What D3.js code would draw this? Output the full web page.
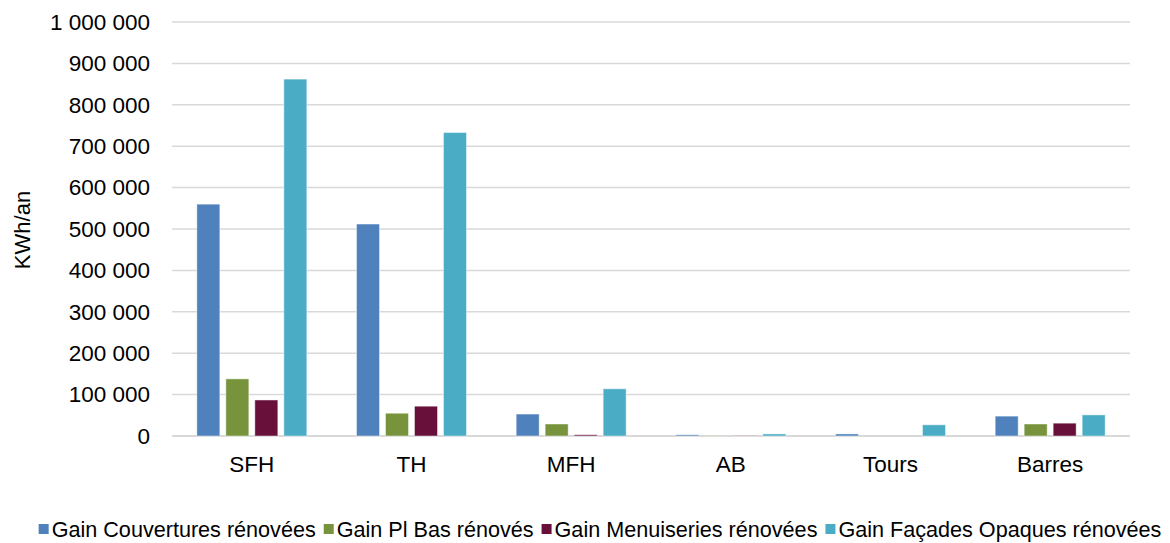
<!DOCTYPE html>
<html>
<head>
<meta charset="utf-8">
<script src="https://cdn.jsdelivr.net/npm/d3@7"></script>
<style>
  html, body { margin: 0; padding: 0; background: #fff; }
  svg { display: block; font-family: "Liberation Sans", Arial, sans-serif; }
</style>
</head>
<body>
<svg id="chart" width="1170" height="543"></svg>
<script>
// Building typologies
const categories = ["SFH", "TH", "MFH", "AB", "Tours", "Barres"];

// Series names (legend order)
const seriesNames = [
  "Gain Couvertures rénovées",
  "Gain Pl Bas rénovés",
  "Gain Menuiseries rénovées",
  "Gain Façades Opaques rénovées"
];

// Annual gains, kWh/an, per typology
const gainCouvertures = [560000, 512000, 53000, 3000, 5000, 48000];
const gainPlBas       = [138000,  55000, 29000,  500,    0, 29000];
const gainMenuiseries = [ 87000,  72000,  3000,  500,    0, 31000];
const gainFacades     = [862000, 733000, 114000, 5000, 27000, 51000];

const yTicks = [0, 100000, 200000, 300000, 400000, 500000, 600000, 700000, 800000, 900000, 1000000];

const colors = ["#4F81BD", "#77933C", "#69103A", "#4BACC6"];

const seriesValues = [gainCouvertures, gainPlBas, gainMenuiseries, gainFacades];

const svg = d3.select("#chart");
const plot = { left: 172, right: 1130, top: 22, bottom: 436 };

const x0 = d3.scaleBand()
  .domain(categories)
  .range([plot.left, plot.right])
  .paddingInner(0)
  .paddingOuter(0);

const x1 = d3.scaleBand()
  .domain(d3.range(seriesNames.length))
  .range([0, x0.bandwidth()])
  .paddingInner(0.207)
  .paddingOuter(0.857);

const y = d3.scaleLinear()
  .domain([0, 1000000])
  .range([plot.bottom, plot.top]);

const fmt = v => d3.format(",")(v).replace(/,/g, " ");

// Horizontal gridlines
svg.append("g")
  .selectAll("line")
  .data(yTicks)
  .join("line")
  .attr("x1", plot.left)
  .attr("x2", plot.right)
  .attr("y1", d => y(d))
  .attr("y2", d => y(d))
  .attr("stroke", "#D9D9D9")
  .attr("stroke-width", d => d === 0 ? 2 : 1.5);

// Y axis labels
const yAxis = d3.axisLeft(y)
  .tickValues(yTicks)
  .tickFormat(fmt)
  .tickSize(0)
  .tickPadding(22);

const yG = svg.append("g")
  .attr("transform", `translate(${plot.left},0)`)
  .call(yAxis);
yG.select(".domain").remove();
yG.selectAll("text")
  .attr("fill", "#000")
  .style("font-size", "22.5px")
  .style("font-family", "'Liberation Sans', Arial, sans-serif");

// Category labels
const xAxis = d3.axisBottom(x0).tickSize(0).tickPadding(20);
const xG = svg.append("g")
  .attr("transform", `translate(0,${plot.bottom})`)
  .call(xAxis);
xG.select(".domain").remove();
xG.selectAll("text")
  .attr("fill", "#000")
  .style("font-size", "22.5px")
  .style("font-family", "'Liberation Sans', Arial, sans-serif");

// Y axis title
svg.append("text")
  .attr("transform", `translate(30,230) rotate(-90)`)
  .attr("text-anchor", "middle")
  .style("font-size", "22px")
  .attr("fill", "#000")
  .text("KWh/an");

// Bars
const rows = categories.map((c, i) => ({
  cat: c,
  vals: seriesValues.map((s, k) => ({ k, v: s[i] }))
}));

svg.append("g")
  .selectAll("g")
  .data(rows)
  .join("g")
  .attr("transform", d => `translate(${x0(d.cat)},0)`)
  .selectAll("rect")
  .data(d => d.vals)
  .join("rect")
  .attr("x", d => x1(d.k))
  .attr("width", x1.bandwidth())
  .attr("y", d => y(d.v))
  .attr("height", d => y(0) - y(d.v))
  .attr("fill", d => colors[d.k])
  .attr("stroke", "#fff")
  .attr("stroke-opacity", 0.45)
  .attr("stroke-width", 1);

// Legend
const legend = svg.append("g");
const items = legend.selectAll("g")
  .data(seriesNames)
  .join("g");
items.append("rect")
  .attr("width", 10)
  .attr("height", 10)
  .attr("y", -13)
  .attr("fill", (d, i) => colors[i]);
items.append("text")
  .attr("x", 13)
  .style("font-size", "21.6px")
  .attr("fill", "#000")
  .text(d => d);

let cx = 0;
const offsets = [];
items.each(function () {
  const w = d3.select(this).select("text").node().getComputedTextLength();
  offsets.push(cx);
  cx += 13 + w + 8;
});
const totalW = cx - 8;
items.attr("transform", (d, i) => `translate(${offsets[i]},0)`);
legend.attr("transform", `translate(${600 - totalW / 2},537)`);
</script>
</body>
</html>
